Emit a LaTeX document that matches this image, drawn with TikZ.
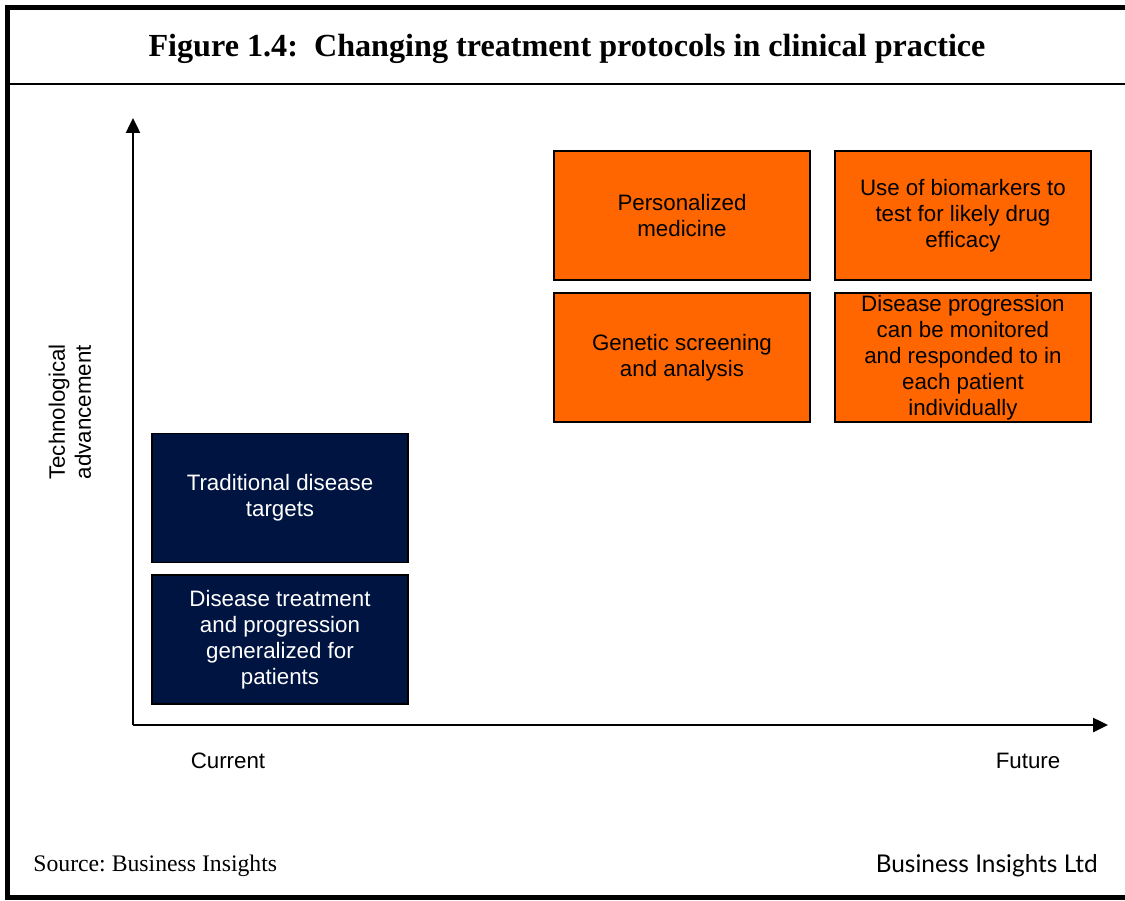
\documentclass[tikz,border=0pt]{standalone}
\usepackage{fontspec}
\setmainfont{Liberation Serif}
\setsansfont{Liberation Sans}
\newfontfamily\logofont{Lato}
\usetikzlibrary{arrows.meta,positioning}
\definecolor{navyblue}{HTML}{001441}
\definecolor{brightorange}{HTML}{FF6600}
\frenchspacing

\begin{document}
\begin{tikzpicture}[node distance=2.2mm and 4.6mm,
    box/.style={
    % The shape:
    rectangle,
    minimum width=5.12cm,minimum height=2.58cm,
    inner sep=0pt,align=center,
    % The rest
    draw=black,line width=1.1pt,
    font=\sffamily\fontsize{12.7}{14.8}\selectfont},
    future/.style={box,fill=brightorange,text=black},
    current/.style={box,fill=navyblue,text=white},
    axislabel/.style={font=\sffamily\fontsize{12.7}{14.8}\selectfont},
    axis/.style={line width=1.4pt,-{Triangle[length=3mm,width=2.8mm]}}]
    \useasboundingbox (0,0) rectangle (22.5,18);
    % frame and title bar
    \draw[line width=2.8pt] (22.5,17.85) -| (0.15,0.05) -- (22.5,0.05);
    \coordinate (barL) at (0.15,16.32);
    \coordinate (barR) at (22.5,16.32);
    \draw[line width=1.1pt] (barL) -- (barR);
    \node (title) at (11.34,17.02) {\fontsize{18.3}{21}\selectfont\bfseries Figure 1.4:\ \ Changing treatment protocols in clinical practice};
    % axes
    \coordinate (origin) at (2.66,3.5);
    \coordinate (ytip) at (2.66,15.64);
    \coordinate (xtip) at (22.16,3.5);
    \draw[axis] (origin) -- (ytip);
    \draw[axis] (origin) -- (xtip);
    \node (ylabel) [axislabel,rotate=90,align=center] at (1.4,9.76) {Technological\\advancement};
    \node (current) [axislabel] at (4.56,2.78) {Current};
    \node (future) [axislabel] at (20.56,2.78) {Future};
    % today
    \node (trad) [current] at (5.6,8.04) {Traditional disease\\targets};
    \node (general) [current,below=of trad] {Disease treatment\\and progression\\generalized for\\patients};
    % tomorrow
    \node (personal) [future] at (13.64,13.69) {Personalized\\medicine};
    \node (biomark) [future,right=of personal] {Use of biomarkers to\\test for likely drug\\efficacy};
    \node (genetic) [future,below=of personal] {Genetic screening\\and analysis};
    \node (monitor) [future,below=of biomark] {Disease progression\\can be monitored\\and responded to in\\each patient\\individually};
    % footer
    \node (source) [anchor=west,inner sep=0pt,font=\fontsize{13.5}{16}\selectfont] at (0.66,0.69) {Source: Business Insights};
    \node (brand) [anchor=east,inner sep=0pt,font=\logofont\fontsize{13.9}{16}\selectfont] at (21.96,0.69) {Business Insights Ltd};
\end{tikzpicture}
\end{document}
